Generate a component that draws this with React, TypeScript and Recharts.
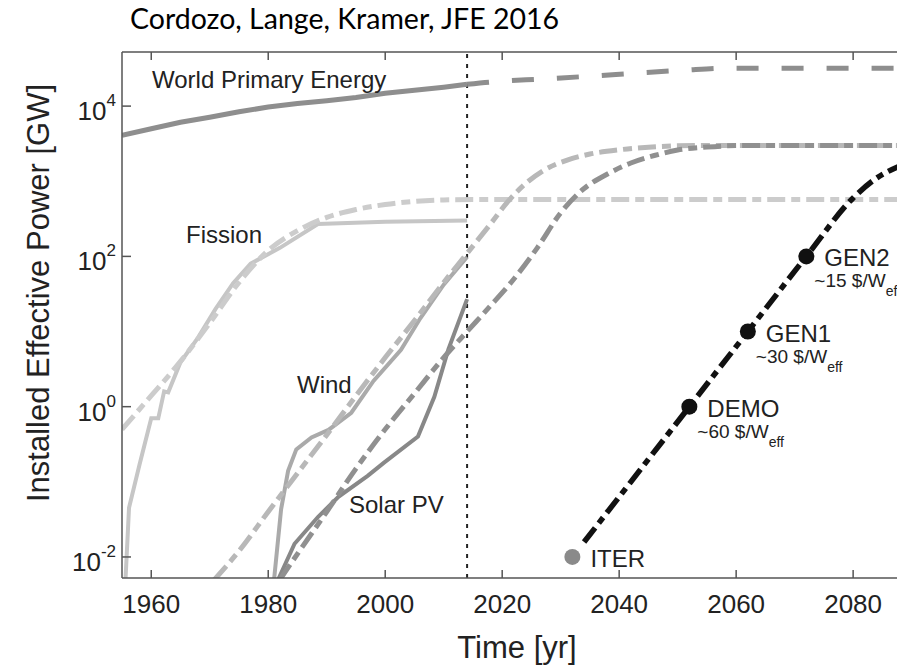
import React from "react";
import { ComposedChart, Line, XAxis, YAxis, ReferenceLine } from "recharts";

// world primary energy, historic and projected
const worldYears = [1955, 1960, 1965, 1970, 1975, 1980, 1985, 1990, 1995, 2000, 2005, 2010, 2014];
const worldValues = [4100, 5000, 6100, 7100, 8400, 9700, 10800, 11800, 13000, 14800, 16200, 17800, 19500];
const worldProjYears = [2014, 2018, 2027, 2035, 2043, 2051, 2059, 2070, 2088];
const worldProjValues = [19500, 20900, 23000, 25000, 27500, 30000, 32000, 32000, 32000];

// fission
const fissionYears = [1955.6, 1956.2, 1958, 1960, 1961.2, 1962.2, 1962.9, 1965, 1968, 1971, 1974, 1977, 1982, 1988.5, 2000, 2014];
const fissionValues = [0.005, 0.045, 0.17, 0.7, 0.7, 1.6, 1.55, 3.9, 8.3, 20, 44, 80, 130, 270, 290, 300];
const fissionProjYears = [1955, 1960, 1965, 1970, 1975, 1980, 1985, 1990, 1995, 2000, 2005, 2010, 2015, 2088];
const fissionProjValues = [0.5, 1.4, 4, 13, 45, 120, 220, 330, 420, 490, 540, 565, 570, 570];

// wind
const windYears = [1981, 1982.2, 1983.4, 1984.8, 1987.4, 1990.3, 1994.2, 1998, 2002.7, 2006, 2010, 2014];
const windValues = [0.005, 0.043, 0.14, 0.27, 0.39, 0.49, 0.83, 2.2, 5.7, 15, 42, 98];
const windProjYears = [1970.8, 1975, 1980, 1985, 1990, 1995, 2000, 2005, 2010, 2014, 2018, 2021, 2024, 2027, 2031, 2035, 2040, 2045, 2050, 2055, 2088];
const windProjValues = [0.005, 0.012, 0.04, 0.13, 0.42, 1.4, 4.5, 14, 45, 110, 270, 540, 930, 1380, 1900, 2300, 2620, 2830, 2960, 3000, 3000];

// solar PV
const solarYears = [1981.7, 1984.5, 1988.5, 1992, 1997, 1999.8, 2005.6, 2008.4, 2010.8, 2014];
const solarValues = [0.005, 0.015, 0.034, 0.063, 0.12, 0.18, 0.4, 1.35, 5.8, 27];
const solarProjYears = [1982, 1985, 1990, 1995, 2000, 2005, 2010, 2014, 2018, 2022, 2026, 2030, 2034, 2038, 2042, 2046, 2050, 2055, 2060, 2065, 2088];
const solarProjValues = [0.005, 0.011, 0.04, 0.15, 0.5, 1.5, 4.5, 10, 22, 50, 130, 380, 800, 1250, 1750, 2200, 2600, 2850, 2980, 3000, 3000];

// fusion roadmap
const fusionYears = [2034, 2042, 2052, 2062, 2072, 2080, 2084, 2088];
const fusionValues = [0.0158, 0.1, 1, 10, 100, 600, 1100, 1600];
const milestoneNames = ["ITER", "DEMO", "GEN1", "GEN2"];
const milestoneYears = [2032, 2052, 2062, 2072];
const milestoneValues = [0.01, 1, 10, 100];
const milestoneCosts = ["", "~60 $/W", "~30 $/W", "~15 $/W"];

const NOW_YEAR = 2014;
const xTicks = [1960, 1980, 2000, 2020, 2040, 2060, 2080];
const yTicks = [0.01, 1, 100, 10000];
const yExponents = ["-2", "0", "2", "4"];

const zip = (xs: number[], vs: number[]) => xs.map((year, i) => ({ year, v: vs[i] }));
const milestones = milestoneNames.map((name, i) => ({
  name,
  year: milestoneYears[i],
  v: milestoneValues[i],
  cost: milestoneCosts[i],
}));

const W = 897;
const H = 669;
const FONT = '"Liberation Sans", Arial, Helvetica, sans-serif';
const AXIS = "#555";
const TEXT = "#222";
const PROJ_DASH = "18 6 9 6";

const BottomTick = ({ x, y, payload }: any) => (
  <g>
    <line x1={x} x2={x} y1={y} y2={y - 8} stroke={AXIS} strokeWidth={1.5} />
    <text x={x} y={y + 35} textAnchor="middle" fontSize={26} fill={TEXT} fontFamily={FONT}>
      {payload.value}
    </text>
  </g>
);

const TopTick = ({ x, y }: any) => (
  <line x1={x} x2={x} y1={y} y2={y + 8} stroke={AXIS} strokeWidth={1.5} />
);

const LeftTick = ({ x, y, payload }: any) => {
  const exp = yExponents[yTicks.indexOf(payload.value)];
  return (
    <g>
      <line x1={x} x2={x + 9} y1={y} y2={y} stroke={AXIS} strokeWidth={1.5} />
      <text x={x - 6} y={y + 14} textAnchor="end" fontSize={26} fill={TEXT} fontFamily={FONT}>
        10
        <tspan dy={-14} fontSize={17}>{exp}</tspan>
      </text>
    </g>
  );
};

const Milestone = (props: any) => {
  const { cx, cy, payload } = props;
  if (cx == null || cy == null) return <g key={payload.name} />;
  const color = payload.name === "ITER" ? "#8a8a8a" : "#111";
  return (
    <g key={payload.name}>
      <circle cx={cx} cy={cy} r={8} fill={color} />
      <text x={cx + 18} y={cy + 10} fontSize={24} fill={TEXT} fontFamily={FONT}>
        {payload.name}
      </text>
      {payload.cost ? (
        <text x={cx + 8} y={cy + 31} fontSize={19} fill={TEXT} fontFamily={FONT}>
          {payload.cost}
          <tspan dy={9} fontSize={14}>eff</tspan>
        </text>
      ) : null}
    </g>
  );
};

const App = () => {
  return (
    <div style={{ position: "absolute", left: 0, top: 0, width: W, height: H, background: "#fff", overflow: "hidden" }}>
      <ComposedChart width={W} height={H} margin={{ top: 0, right: 0, bottom: 0, left: 0 }}>
        <XAxis
          type="number"
          dataKey="year"
          domain={[1955, 2087.5]}
          allowDataOverflow
          ticks={xTicks}
          height={91}
          tickSize={0}
          tickMargin={0}
          tickLine={false}
          tick={BottomTick}
          axisLine={{ stroke: AXIS, strokeWidth: 1.5 }}
        />
        <XAxis
          xAxisId="top"
          orientation="top"
          type="number"
          dataKey="year"
          domain={[1955, 2087.5]}
          allowDataOverflow
          ticks={xTicks}
          height={52}
          tickSize={0}
          tickMargin={0}
          tickLine={false}
          tick={TopTick}
          axisLine={{ stroke: AXIS, strokeWidth: 1.5 }}
        />
        <YAxis
          type="number"
          scale="log"
          domain={[Math.pow(10, -2.28), Math.pow(10, 4.72)]}
          allowDataOverflow
          ticks={yTicks}
          width={122}
          tickSize={0}
          tickMargin={0}
          tickLine={false}
          tick={LeftTick}
          axisLine={{ stroke: AXIS, strokeWidth: 1.5 }}
        />
        <ReferenceLine x={NOW_YEAR} stroke="#222" strokeWidth={2} strokeDasharray="4 6" />

        <Line data={zip(fissionYears, fissionValues)} dataKey="v" type="linear" stroke="#c6c6c6" strokeWidth={4} dot={false} isAnimationActive={false} />
        <Line data={zip(fissionProjYears, fissionProjValues)} dataKey="v" type="monotone" stroke="#cccccc" strokeWidth={5} strokeDasharray={PROJ_DASH} dot={false} isAnimationActive={false} />
        <Line data={zip(windYears, windValues)} dataKey="v" type="linear" stroke="#aaaaaa" strokeWidth={4} dot={false} isAnimationActive={false} />
        <Line data={zip(windProjYears, windProjValues)} dataKey="v" type="monotone" stroke="#b8b8b8" strokeWidth={5} strokeDasharray={PROJ_DASH} dot={false} isAnimationActive={false} />
        <Line data={zip(solarYears, solarValues)} dataKey="v" type="linear" stroke="#888888" strokeWidth={4} dot={false} isAnimationActive={false} />
        <Line data={zip(solarProjYears, solarProjValues)} dataKey="v" type="monotone" stroke="#909090" strokeWidth={5} strokeDasharray={PROJ_DASH} dot={false} isAnimationActive={false} />
        <Line data={zip(worldYears, worldValues)} dataKey="v" type="linear" stroke="#8e8e8e" strokeWidth={5} dot={false} isAnimationActive={false} />
        <Line data={zip(worldProjYears, worldProjValues)} dataKey="v" type="monotone" stroke="#8e8e8e" strokeWidth={5} strokeDasharray="22 23" dot={false} isAnimationActive={false} />
        <Line data={zip(fusionYears, fusionValues)} dataKey="v" type="monotone" stroke="#111" strokeWidth={5.5} strokeDasharray="18 6 7 6" dot={false} isAnimationActive={false} />
        <Line data={milestones} dataKey="v" stroke="none" dot={Milestone} activeDot={false} isAnimationActive={false} />
      </ComposedChart>

      <svg width={W} height={H} style={{ position: "absolute", left: 0, top: 0, pointerEvents: "none" }}>
        <text x={130} y={29} fontSize={28.5} fill="#000" fontFamily='Lato, "Open Sans", sans-serif'>
          Cordozo, Lange, Kramer, JFE 2016
        </text>
        <text x={152} y={88} fontSize={24} fill={TEXT} fontFamily={FONT}>World Primary Energy</text>
        <text x={186} y={243} fontSize={24} fill={TEXT} fontFamily={FONT}>Fission</text>
        <text x={297} y={393} fontSize={24} fill={TEXT} fontFamily={FONT}>Wind</text>
        <text x={349} y={513} fontSize={24} fill={TEXT} fontFamily={FONT}>Solar PV</text>
        <text x={517} y={658} fontSize={31} fill={TEXT} fontFamily={FONT} textAnchor="middle">Time [yr]</text>
        <text transform="translate(49, 293) rotate(-90)" x={0} y={0} fontSize={31} fill={TEXT} fontFamily={FONT} textAnchor="middle">
          Installed Effective Power [GW]
        </text>
      </svg>
    </div>
  );
};

export default App;
